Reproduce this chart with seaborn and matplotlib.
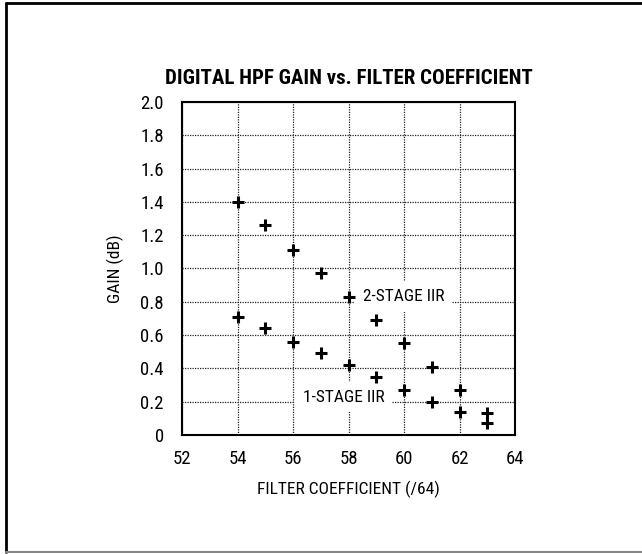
import numpy as np
import pandas as pd
import seaborn as sns
from matplotlib import pyplot as plt
from matplotlib.lines import Line2D

# data
coefficients = [54, 55, 56, 57, 58, 59, 60, 61, 62, 63]
gain_two_stage = [1.40, 1.26, 1.11, 0.97, 0.83, 0.69, 0.55, 0.41, 0.27, 0.13]
gain_one_stage = [0.71, 0.64, 0.56, 0.49, 0.42, 0.35, 0.27, 0.20, 0.14, 0.07]

x_ticks = [52, 54, 56, 58, 60, 62, 64]
y_ticks = [0, 0.2, 0.4, 0.6, 0.8, 1.0, 1.2, 1.4, 1.6, 1.8, 2.0]
y_tick_labels = ["0", "0.2", "0.4", "0.6", "0.8", "1.0", "1.2", "1.4", "1.6", "1.8", "2.0"]

sns.set_style("white")
plt.rcParams["font.family"] = ["Liberation Sans Narrow", "DejaVu Sans Condensed",
                               "Roboto Condensed", "Roboto", "DejaVu Sans"]
plt.rcParams["font.stretch"] = "condensed"
for key in ("text.color", "axes.labelcolor", "xtick.color", "ytick.color"):
    plt.rcParams[key] = "black"

df = pd.DataFrame({
    "coef": coefficients + coefficients,
    "gain": gain_two_stage + gain_one_stage,
    "series": ["2-STAGE IIR"] * len(coefficients) + ["1-STAGE IIR"] * len(coefficients),
})

fig = plt.figure(figsize=(6.42, 5.54), dpi=100)
ax = fig.add_axes([0.2835, 0.2148, 0.5187, 0.6011])

sns.scatterplot(
    data=df, x="coef", y="gain",
    marker="+", s=75, color="black", linewidth=2.2,
    legend=False, ax=ax, zorder=4,
)

ax.set_xlim(52, 64)
ax.set_ylim(0, 2.0)
ax.set_xticks(x_ticks)
ax.set_yticks(y_ticks)
ax.set_yticklabels(y_tick_labels)
ax.tick_params(axis="both", length=0, labelsize=13.5)
ax.tick_params(axis="x", pad=11)
ax.tick_params(axis="y", pad=13)

ax.grid(True, color="#222222", linestyle=(0, (1, 1)), linewidth=0.9)
ax.set_axisbelow(True)
for spine in ax.spines.values():
    spine.set_visible(True)
    spine.set_color("black")
    spine.set_linewidth(1.5)

ax.set_xlabel("FILTER COEFFICIENT (/64)", fontsize=12.5, labelpad=9)
ax.set_ylabel("GAIN (dB)", fontsize=12.5, labelpad=12)
ax.set_title("DIGITAL HPF GAIN vs. FILTER COEFFICIENT",
             fontsize=15, fontweight="heavy", pad=13)

box = dict(boxstyle="square,pad=0.45", facecolor="white", edgecolor="none")
ax.text(58.52, 0.83, "2-STAGE IIR", fontsize=12.5, va="center", ha="left",
        bbox=box, zorder=3)
ax.text(56.35, 0.228, "1-STAGE IIR", fontsize=12.5, va="center", ha="left",
        bbox=box, zorder=3)

# outer frame of the figure
fig.add_artist(Line2D([6 / 642, 1], [1 - 3 / 554, 1 - 3 / 554],
                      transform=fig.transFigure, color="black", linewidth=2))
fig.add_artist(Line2D([6 / 642, 6 / 642], [1 - 3 / 554, 2 / 554],
                      transform=fig.transFigure, color="black", linewidth=2))
fig.add_artist(Line2D([6 / 642, 1], [2 / 554, 2 / 554],
                      transform=fig.transFigure, color="#888888", linewidth=1.5))

fig.savefig("out.png", dpi=100)
plt.close(fig)
